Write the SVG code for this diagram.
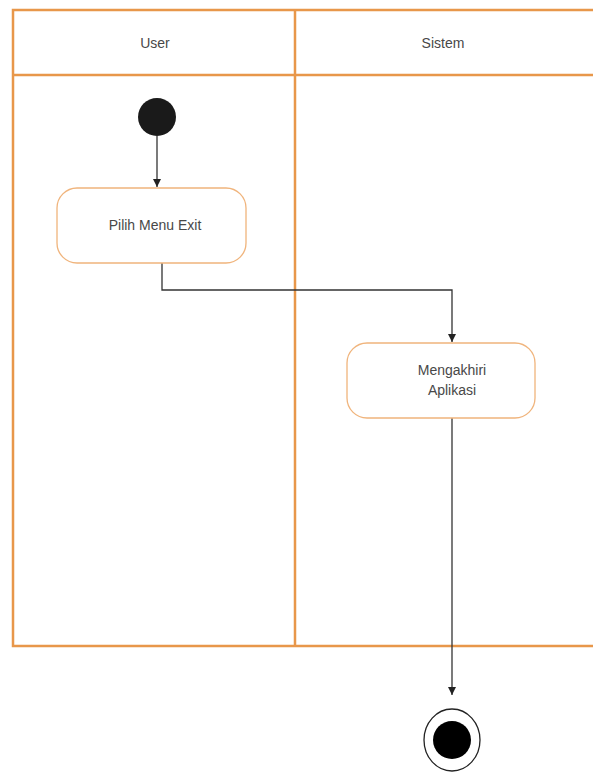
<svg xmlns="http://www.w3.org/2000/svg" width="593" height="776" viewBox="0 0 593 776">
<style>
.lane{fill:none;stroke:#E8974A;stroke-width:2.5}
.act{fill:#fff;stroke:#F0B47C;stroke-width:1.3}
.t{font-family:"Liberation Sans",Arial,sans-serif;font-size:14px;fill:#484848;text-anchor:middle}
.c{fill:none;stroke:#333;stroke-width:1.3}
</style>
<defs>
<marker id="ah" viewBox="0 0 10 10" refX="10" refY="5" markerWidth="8" markerHeight="14" markerUnits="userSpaceOnUse" orient="auto">
<path d="M0,0 L10,5 L0,10 z" fill="#222"/>
</marker>
</defs>
<rect width="593" height="776" fill="#fff"/>
<g id="swimlanes">
<path class="lane" d="M600,10 H13 V646 H600 M13,75 H600 M295,10 V646"/>
<text class="t" x="155" y="48">User</text>
<text class="t" x="443" y="48">Sistem</text>
</g>
<g id="connectors">
<path class="c" d="M157,136 V187" marker-end="url(#ah)"/>
<path class="c" d="M162,263 V290 H452 V342" marker-end="url(#ah)"/>
<path class="c" d="M452,418 V695" marker-end="url(#ah)"/>
</g>
<g id="start"><circle cx="157" cy="117" r="19" fill="#1a1a1a"/></g>
<g id="pilih">
<rect class="act" x="57" y="188" width="189" height="75" rx="20"/>
<text class="t" x="155" y="230">Pilih Menu Exit</text>
</g>
<g id="mengakhiri">
<rect class="act" x="347" y="343" width="188" height="75" rx="20"/>
<text class="t" x="452" y="375">Mengakhiri</text>
<text class="t" x="452" y="395">Aplikasi</text>
</g>
<g id="end">
<ellipse cx="452" cy="740" rx="28" ry="31" fill="#fff" stroke="#222" stroke-width="1.3"/>
<circle cx="452" cy="740" r="19" fill="#000"/>
</g>
</svg>
